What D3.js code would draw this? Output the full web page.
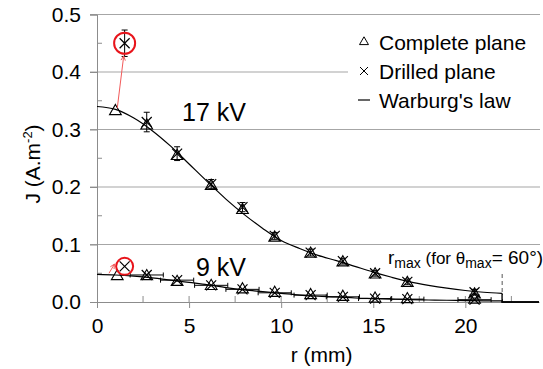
<!DOCTYPE html>
<html>
<head>
<meta charset="utf-8">
<script src="https://cdn.jsdelivr.net/npm/d3@7"></script>
<style>
  body { margin: 0; background: #fff; }
  text { font-family: "Liberation Sans", Arial, sans-serif; fill: #000; }
</style>
</head>
<body>
<script>
const width = 543, height = 369;

// measured radial positions (mm)
const rPos = [2.7, 4.35, 6.2, 7.9, 9.65, 11.6, 13.35, 15.1, 16.85, 20.5];

// 17 kV
const complete17R = [1.0].concat(rPos);
const complete17 = [0.33, 0.305, 0.252, 0.2, 0.158, 0.11, 0.082, 0.067, 0.046, 0.031, 0.011];
const drilled17R = [1.5].concat(rPos);
const drilled17 = [0.45, 0.313, 0.258, 0.205, 0.165, 0.115, 0.086, 0.071, 0.05, 0.035, 0.017];
const drilled17Err = [0.023, 0.017, 0.012, 0.008, 0.008, 0.006, 0.006, 0.005, 0.005, 0.005, 0.005];

// 9 kV
const complete9R = [1.1].concat(rPos);
const complete9 = [0.043, 0.043, 0.033, 0.026, 0.02, 0.014, 0.01, 0.007, 0.004, 0.003, 0.002];
const drilled9R = [1.5].concat(rPos);
const drilled9 = [0.062, 0.047, 0.038, 0.029, 0.022, 0.016, 0.012, 0.009, 0.006, 0.005, 0.004];

// Warburg's law curves
const warburgR = [0, 1, 2, 3, 4, 5, 6, 7, 8, 9, 10, 11, 12, 13, 14, 15, 16, 17, 18, 19, 20, 21, 22];
const warburg17 = [0.340, 0.335, 0.320, 0.298, 0.271, 0.240, 0.209, 0.179, 0.152, 0.128, 0.107, 0.093,
                   0.081, 0.072, 0.062, 0.052, 0.043, 0.035, 0.029, 0.024, 0.020, 0.017, 0.015];
const warburg9 = [0.048, 0.047, 0.045, 0.042, 0.038, 0.034, 0.030, 0.025, 0.021, 0.018, 0.015, 0.012,
                  0.010, 0.009, 0.007, 0.006, 0.005, 0.004, 0.0035, 0.003, 0.0025, 0.002, 0.002];
const rMax = 22;

const yTicks = [0, 0.1, 0.2, 0.3, 0.4, 0.5];
const xTicks = [0, 5, 10, 15, 20];
const legendItems = ["Complete plane", "Drilled plane", "Warburg's law"];

const x = d3.scaleLinear().domain([0, 24]).range([97, 539]);
const y = d3.scaleLinear().domain([0, 0.5]).range([302, 14.5]);

const svg = d3.select("body").append("svg")
    .attr("width", width)
    .attr("height", height);

// grid lines
svg.append("g")
    .selectAll("line")
    .data(yTicks.filter(d => d > 0))
    .enter().append("line")
    .attr("x1", 90).attr("x2", 540)
    .attr("y1", d => y(d)).attr("y2", d => y(d))
    .attr("stroke", "#a6a6a6").attr("stroke-width", 1.2);

// y axis
let yAxis = svg.append("g").attr("transform", "translate(97,0)")
    .call(d3.axisLeft(y).tickValues(yTicks).tickFormat(d3.format(".1f")).tickSize(7).tickPadding(9));
yAxis.select(".domain").attr("stroke", "#8c8c8c");
yAxis.selectAll(".tick line").attr("stroke", "#8c8c8c");
yAxis.selectAll("text").style("font-size", "21px").attr("fill", "#000");
svg.append("g").selectAll("line")
    .data([0.05, 0.15, 0.25, 0.35, 0.45])
    .enter().append("line")
    .attr("x1", 97).attr("x2", 102)
    .attr("y1", d => y(d)).attr("y2", d => y(d))
    .attr("stroke", "#8c8c8c");

// x axis
let xAxis = svg.append("g").attr("transform", "translate(0,302)")
    .call(d3.axisBottom(x).tickValues(xTicks).tickSize(6).tickPadding(10).tickSizeOuter(0));
xAxis.select(".domain").attr("stroke", "#8c8c8c");
xAxis.selectAll(".tick line").attr("stroke", "#8c8c8c");
xAxis.selectAll("text").style("font-size", "21px").attr("fill", "#000");
svg.append("g").selectAll("line")
    .data(d3.range(1, 10).map(i => i * 2.5))
    .enter().append("line")
    .attr("x1", d => x(d)).attr("x2", d => x(d))
    .attr("y1", 302).attr("y2", 296)
    .attr("stroke", "#8c8c8c");

// axis titles
svg.append("text")
    .attr("x", x(12.2)).attr("y", 362)
    .attr("text-anchor", "middle")
    .style("font-size", "21px")
    .text("r (mm)");

let ylab = svg.append("text")
    .attr("transform", "translate(40," + y(0.24) + ") rotate(-90)")
    .attr("text-anchor", "middle")
    .style("font-size", "21px");
ylab.append("tspan").text("J (A.m");
ylab.append("tspan").attr("dy", -8).style("font-size", "13px").text("-2");
ylab.append("tspan").attr("dy", 8).text(")");

// warburg curves
const curveLine = d3.line()
    .x(d => x(d[0]))
    .y(d => y(d[1]))
    .curve(d3.curveCatmullRom);

[warburg17, warburg9].forEach(function(vals) {
    let pts = warburgR.map((r, i) => [r, vals[i]]);
    svg.append("path")
        .attr("d", curveLine(pts))
        .attr("fill", "none")
        .attr("stroke", "#000")
        .attr("stroke-width", 1.2);
    // cut-off at r_max
    svg.append("path")
        .attr("d", d3.line().x(d => x(d[0])).y(d => y(d[1]))([[rMax, vals[vals.length - 1]], [rMax, 0], [24, 0]]))
        .attr("fill", "none")
        .attr("stroke", "#000")
        .attr("stroke-width", 1.5);
});

// r_max dashed line
svg.append("line")
    .attr("x1", x(rMax)).attr("x2", x(rMax))
    .attr("y1", 274).attr("y2", 302)
    .attr("stroke", "#555").attr("stroke-dasharray", "4,3");

// horizontal error bars on 9 kV points
svg.append("g").selectAll("path")
    .data(drilled9R.slice(1).map((r, i) => [r, drilled9[i + 1]]))
    .enter().append("path")
    .attr("d", d => "M" + x(d[0] - 0.9) + "," + y(d[1]) + "H" + x(d[0] + 0.9) +
        "M" + x(d[0] - 0.9) + "," + (y(d[1]) - 2.5) + "v5" +
        "M" + x(d[0] + 0.9) + "," + (y(d[1]) - 2.5) + "v5")
    .attr("stroke", "#000").attr("stroke-width", 1);

// vertical error bars on 17 kV drilled points
svg.append("g").selectAll("path")
    .data(drilled17R.map((r, i) => [r, drilled17[i], drilled17Err[i]]))
    .enter().append("path")
    .attr("d", d => "M" + x(d[0]) + "," + y(d[1] - d[2]) + "V" + y(d[1] + d[2]) +
        "M" + (x(d[0]) - 3) + "," + y(d[1] - d[2]) + "h6" +
        "M" + (x(d[0]) - 3) + "," + y(d[1] + d[2]) + "h6")
    .attr("stroke", "#000").attr("stroke-width", 1);

// markers
const triangle = d3.symbol().type(d3.symbolTriangle).size(60);
function drawTriangles(rs, vals) {
    svg.append("g").selectAll("path")
        .data(rs.map((r, i) => [r, vals[i]]))
        .enter().append("path")
        .attr("d", triangle)
        .attr("transform", d => "translate(" + x(d[0]) + "," + (y(d[1]) - 1) + ")")
        .attr("fill", "none").attr("stroke", "#000").attr("stroke-width", 1.1);
}
function drawCrosses(rs, vals) {
    svg.append("g").selectAll("path")
        .data(rs.map((r, i) => [r, vals[i]]))
        .enter().append("path")
        .attr("d", "M-5,-5L5,5M-5,5L5,-5")
        .attr("transform", d => "translate(" + x(d[0]) + "," + y(d[1]) + ")")
        .attr("fill", "none").attr("stroke", "#000").attr("stroke-width", 1.2);
}
drawTriangles(complete17R, complete17);
drawTriangles(complete9R, complete9);
drawCrosses(drilled17R, drilled17);
drawCrosses(drilled9R, drilled9);

// red circles around the first drilled points
svg.append("circle")
    .attr("cx", x(drilled17R[0])).attr("cy", y(drilled17[0])).attr("r", 10.5)
    .attr("fill", "none").attr("stroke", "#e8141b").attr("stroke-width", 2);
svg.append("circle")
    .attr("cx", x(drilled9R[0])).attr("cy", y(drilled9[0])).attr("r", 8.5)
    .attr("fill", "none").attr("stroke", "#e8141b").attr("stroke-width", 2);

// red arrows
function redArrow(x1, y1, x2, y2) {
    let a = Math.atan2(y2 - y1, x2 - x1);
    let h = 5;
    svg.append("path")
        .attr("d", "M" + x1 + "," + y1 + "L" + x2 + "," + y2 +
            "M" + (x2 - h * Math.cos(a - 0.45)) + "," + (y2 - h * Math.sin(a - 0.45)) +
            "L" + x2 + "," + y2 +
            "L" + (x2 - h * Math.cos(a + 0.45)) + "," + (y2 - h * Math.sin(a + 0.45)))
        .attr("fill", "none").attr("stroke", "#f25a5a").attr("stroke-width", 1);
}
redArrow(x(1.1), y(0.337), x(1.45), y(0.428));
redArrow(x(0.65), y(0.05), x(0.95), y(0.066));

// annotations
svg.append("text").attr("x", 182).attr("y", 121).style("font-size", "25px").text("17 kV");
svg.append("text").attr("x", 196).attr("y", 276).style("font-size", "25px").text("9 kV");

let rm = svg.append("text").attr("x", 388).attr("y", 264).style("font-size", "19px");
rm.append("tspan").text("r");
rm.append("tspan").attr("dy", 4).style("font-size", "14px").text("max");
rm.append("tspan").attr("dy", -4).style("font-size", "17px").text(" (for \u03b8");
rm.append("tspan").attr("dy", 4).style("font-size", "14px").text("max");
rm.append("tspan").attr("dy", -4).style("font-size", "19px").text("= 60\u00b0)");

// legend
let legend = svg.append("g");
legend.append("rect")
    .attr("x", 348).attr("y", 24).attr("width", 195).attr("height", 90)
    .attr("fill", "#fff");
legendItems.forEach(function(name, i) {
    let ly = 42 + i * 29;
    legend.append("text")
        .attr("x", 379).attr("y", ly + 7.5)
        .style("font-size", "21px")
        .text(name);
    if (i === 0) {
        legend.append("path")
            .attr("d", d3.symbol().type(d3.symbolTriangle).size(35))
            .attr("transform", "translate(364," + ly + ")")
            .attr("fill", "none").attr("stroke", "#000");
    } else if (i === 1) {
        legend.append("path")
            .attr("d", "M-4,-4L4,4M-4,4L4,-4")
            .attr("transform", "translate(364," + ly + ")")
            .attr("stroke", "#000");
    } else {
        legend.append("line")
            .attr("x1", 358).attr("x2", 370)
            .attr("y1", ly).attr("y2", ly)
            .attr("stroke", "#000").attr("stroke-width", 1.2);
    }
});
</script>
</body>
</html>
